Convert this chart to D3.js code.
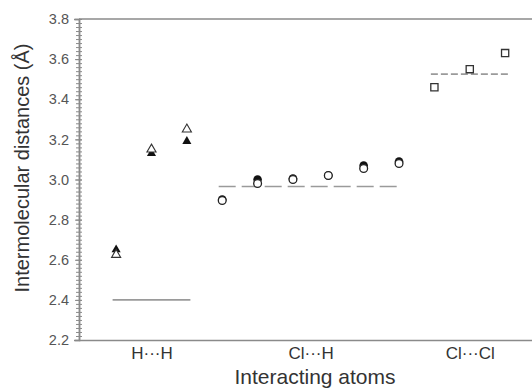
<!DOCTYPE html>
<html><head><meta charset="utf-8">
<script src="https://cdn.jsdelivr.net/npm/d3@7"></script>
<style>body{margin:0;background:#fff;} svg{display:block;}</style>
</head><body>
<svg id="c" width="532" height="390"></svg>
<script>
// categories and their slot positions
const categories = ["H\u00B7\u00B7\u00B7H", "Cl\u00B7\u00B7\u00B7H", "Cl\u00B7\u00B7\u00B7Cl"];
const categorySlots = [1, 5.5, 10];
// H···H (triangles)
const hhSlots = [0, 1, 2];
const hhFilled = [2.65, 3.13, 3.19];
const hhOpen = [2.625, 3.15, 3.25];
// Cl···H (circles)
const clhSlots = [3, 4, 5, 6, 7, 8];
const clhFilled = [2.90, 3.00, 3.005, 3.02, 3.07, 3.09];
const clhOpen = [2.895, 2.98, 3.00, 3.02, 3.055, 3.08];
// Cl···Cl (squares)
const clclSlots = [9, 10, 11];
const clclOpen = [3.46, 3.55, 3.63];
// reference lines: [from slot, to slot, value]
const refStart = [-0.1, 2.9, 8.9];
const refEnd = [2.1, 8.0, 11.1];
const refValue = [2.40, 2.965, 3.525];
const yTicks = [2.2, 2.4, 2.6, 2.8, 3.0, 3.2, 3.4, 3.6, 3.8];

const svg = d3.select("#c");
const L = 79, R = 532, T = 19, B = 340;
const x = d3.scaleLinear().domain([-1.05, 11.76]).range([L, R]);
const y = d3.scaleLinear().domain([2.2, 3.8]).range([B, T]);
const axisCol = "#8a8a8a";
const font = "'Liberation Sans', Arial, sans-serif";

// reference lines
const dashes = ["none", "17,6", "7,3"];
refValue.forEach((v, i) => {
  svg.append("line").attr("x1", x(refStart[i])).attr("x2", x(refEnd[i]))
    .attr("y1", y(v)).attr("y2", y(v))
    .attr("stroke", "#9a9a9a").attr("stroke-width", 1.6)
    .attr("stroke-dasharray", dashes[i]);
});

// y axis
const minor = d3.range(2.2, 3.8001, 0.02);
const yAxis = d3.axisLeft(y).tickValues(minor).tickSize(4)
  .tickFormat(d => "");
const ga = svg.append("g").attr("transform", `translate(${L},0)`).call(yAxis);
ga.selectAll(".tick line").attr("x2", 3).attr("x1", -3);
const yAxisMaj = d3.axisLeft(y).tickValues(yTicks).tickSize(5).tickPadding(6)
  .tickFormat(d3.format(".1f"));
const gm = svg.append("g").attr("transform", `translate(${L},0)`).call(yAxisMaj);
gm.selectAll(".tick line").attr("x2", 3).attr("x1", -4);
[ga, gm].forEach(g => {
  g.select(".domain").attr("stroke", axisCol).attr("stroke-width", 1.5);
  g.selectAll(".tick line").attr("stroke", axisCol).attr("stroke-width", 1);
});
gm.selectAll(".tick text").attr("font-family", font).attr("font-size", 14.5)
  .attr("fill", "#555").attr("x", -10);

// x axis (no ticks)
const xAxis = d3.axisBottom(x).tickValues(categorySlots).tickSize(0).tickPadding(7)
  .tickFormat((d, i) => categories[i]);
const gx = svg.append("g").attr("transform", `translate(0,${B})`).call(xAxis);
gx.select(".domain").attr("stroke", axisCol).attr("stroke-width", 1.5);
gx.selectAll(".tick text").attr("font-family", font).attr("font-size", 17)
  .attr("fill", "#333");

// top frame
svg.append("line").attr("x1", L).attr("x2", R).attr("y1", T).attr("y2", T)
  .attr("stroke", axisCol).attr("stroke-width", 1.5);

// markers
const tri = d3.symbol().type(d3.symbolTriangle).size(36);
const sq = d3.symbol().type(d3.symbolSquare).size(52);
hhFilled.forEach((v, i) => svg.append("path").attr("d", tri)
  .attr("transform", `translate(${x(hhSlots[i])},${y(v)})`).attr("fill", "#111"));
hhOpen.forEach((v, i) => svg.append("path").attr("d", tri)
  .attr("transform", `translate(${x(hhSlots[i])},${y(v)})`)
  .attr("fill", "#fff").attr("stroke", "#333").attr("stroke-width", 1.1));
clhFilled.forEach((v, i) => svg.append("circle").attr("cx", x(clhSlots[i])).attr("cy", y(v))
  .attr("r", 4.3).attr("fill", "#111"));
clhOpen.forEach((v, i) => svg.append("circle").attr("cx", x(clhSlots[i])).attr("cy", y(v))
  .attr("r", 3.9).attr("fill", "#fff").attr("stroke", "#222").attr("stroke-width", 1.3));
clclOpen.forEach((v, i) => svg.append("path").attr("d", sq)
  .attr("transform", `translate(${x(clclSlots[i])},${y(v)})`)
  .attr("fill", "#fff").attr("stroke", "#333").attr("stroke-width", 1.3));

// titles
svg.append("text").attr("x", 315).attr("y", 384).attr("text-anchor", "middle")
  .attr("font-family", font).attr("font-size", 21).attr("fill", "#333")
  .text("Interacting atoms");
svg.append("text").attr("transform", "translate(29,168) rotate(-90)")
  .attr("text-anchor", "middle").attr("font-family", font).attr("font-size", 20)
  .attr("fill", "#333").text("Intermolecular distances (\u00C5)");
</script>
</body></html>
